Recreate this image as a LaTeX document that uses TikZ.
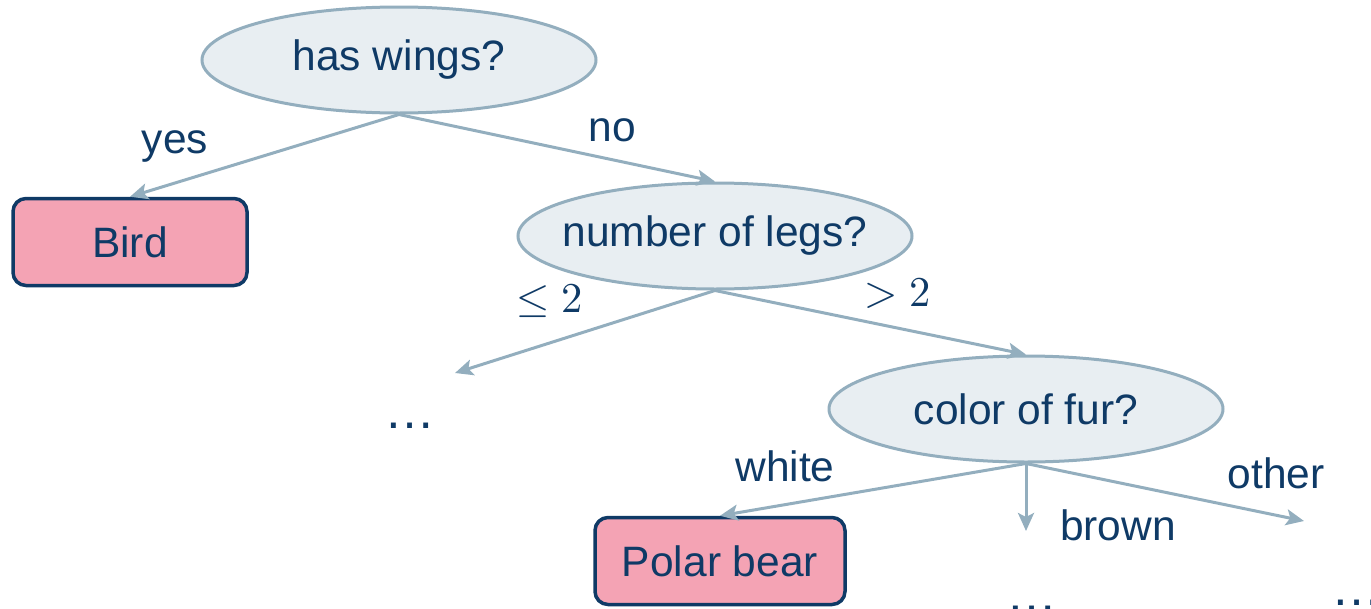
\documentclass[tikz,border=0pt]{standalone}
\usepackage{unicode-math}
\setmainfont{Liberation Sans}
\setmathfont{Latin Modern Math}
\usetikzlibrary{arrows.meta,positioning,shapes.geometric}
\definecolor{navy}{HTML}{0F3A66}
\definecolor{edgeblue}{HTML}{93AEBE}
\definecolor{qfill}{HTML}{E8EEF2}
\definecolor{leafpink}{HTML}{F4A3B4}
% question text must not stretch the ellipse
\newcommand{\ask}[1]{\makebox[0pt]{#1}}

\begin{document}
\begin{tikzpicture}[x=1pt,y=-1pt,>={Stealth[length=18pt,width=16pt,inset=4pt]},
    every node/.style={font=\fontsize{42.5}{50}\selectfont,text=navy},
    question/.style={ellipse,draw=edgeblue,fill=qfill,line width=3pt,inner sep=0pt,
      minimum width=394pt,minimum height=106pt},
    leaf/.style={rectangle,rounded corners=13pt,draw=navy,fill=leafpink,
      line width=3.5pt,minimum height=87pt},
    branch/.style={->,draw=edgeblue,line width=3pt},
    lbl/.style={anchor=base}]
  \useasboundingbox (0,0) rectangle (1371,608);

  % questions and leaves
  \node[question] (wings) at (399,60) {\ask{has wings?}};
  \node[question] (legs) at (715,236) {\ask{number of legs?}};
  \node[question] (fur) at (1026,409) {\ask{color of fur?}};
  \node[leaf,minimum width=234pt] (bird) at (130,242) {Bird};
  \node[leaf,minimum width=250pt] (bear) at (720,561) {Polar bear};

  % subtrees left out
  \node[lbl,scale=1.2] (moreA) at (410,428) {…};
  \node[lbl,scale=1.2] (moreB) at (1032,611) {…};
  \node[lbl,scale=1.2] (moreC) at (1357,605) {…};
  \coordinate (endA) at (455,373);
  \coordinate (endB) at (1026,531);
  \coordinate (endC) at (1304,521);

  % branches
  \draw[branch] (wings.south) -- (bird.north);
  \draw[branch] (wings.south) -- (legs.north);
  \draw[branch] (legs.south) -- (endA);
  \draw[branch] (legs.south) -- (fur.north);
  \draw[branch] (fur.south) -- (bear.north);
  \draw[branch] (fur.south) -- (endB);
  \draw[branch] (fur.south) -- (endC);

  % branch labels
  \node[lbl] (yes) at (175,153) {yes};
  \node[lbl] (no) at (612,141) {no};
  \node[lbl] (le) at (550,312) {$\leq 2$};
  \node[lbl] (gt) at (898,306) {$> 2$};
  \node[lbl] (white) at (785,481) {white};
  \node[lbl] (brown) at (1118,540) {brown};
  \node[lbl] (other) at (1276,488) {other};
\end{tikzpicture}
\end{document}
